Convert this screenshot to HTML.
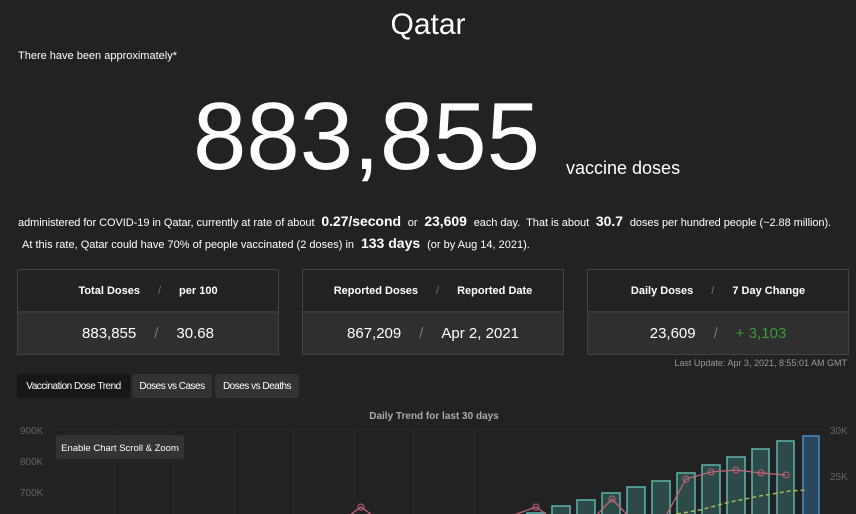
<!DOCTYPE html>
<html><head><style>
body{margin:0;width:856px;height:514px;overflow:hidden;background:#222;color:#fff;font-family:"Liberation Sans",sans-serif;position:relative}
.a{position:absolute;white-space:nowrap}
.box{position:absolute;top:269px;width:260px;height:84px;border:1px solid #444;background:#222}
.box .h{height:41px;border-bottom:2px solid #3a3a3a;display:flex;justify-content:center;align-items:center;font-size:11px;font-weight:bold;gap:18px}
.box .v{height:41px;background:#2f2f2f;display:flex;justify-content:center;align-items:center;font-size:15px;gap:18px}
.s{color:#777;font-weight:normal}
.tab{position:absolute;top:374px;height:24px;background:#333;border-radius:3px;font-size:10px;display:flex;align-items:center;justify-content:center;letter-spacing:-0.5px}
</style></head><body>
<div class="a" style="left:0;width:856px;text-align:center;top:8px;font-size:30px">Qatar</div>
<div class="a" style="left:18px;top:50px;font-size:11px">There have been approximately*</div>
<div class="a" style="left:193px;top:82px;font-size:96px;font-weight:300">883,855</div>
<div class="a" style="left:566px;top:158px;font-size:18px">vaccine doses</div>
<div class="a" style="left:18px;top:213px;font-size:11px;letter-spacing:-0.05px">administered for COVID-19 in Qatar, currently at rate of about <b style="font-size:14px">&nbsp;0.27/second&nbsp;</b> or <b style="font-size:14px">&nbsp;23,609&nbsp;</b> each day. &nbsp;That is about <b style="font-size:14px">&nbsp;30.7&nbsp;</b> doses per hundred people (~2.88 million).</div>
<div class="a" style="left:22px;top:235px;font-size:11px">At this rate, Qatar could have 70% of people vaccinated (2 doses) in <b style="font-size:14px">&nbsp;133 days&nbsp;</b> (or by Aug 14, 2021).</div>
<div class="box" style="left:17px"><div class="h"><span>Total Doses</span><span class="s">/</span><span>per 100</span></div><div class="v"><span>883,855</span><span class="s">/</span><span>30.68</span></div></div>
<div class="box" style="left:302px"><div class="h"><span>Reported Doses</span><span class="s">/</span><span>Reported Date</span></div><div class="v"><span>867,209</span><span class="s">/</span><span>Apr 2, 2021</span></div></div>
<div class="box" style="left:587px"><div class="h"><span>Daily Doses</span><span class="s">/</span><span>7 Day Change</span></div><div class="v"><span>23,609</span><span class="s">/</span><span style="color:#3c9a3c">+ 3,103</span></div></div>
<div class="a" style="right:9px;top:358px;font-size:9px;color:#999">Last Update: Apr 3, 2021, 8:55:01 AM GMT</div>
<div class="tab" style="left:17px;width:113px;background:#171717">Vaccination Dose Trend</div>
<div class="tab" style="left:132px;width:80px">Doses vs Cases</div>
<div class="tab" style="left:215px;width:84px">Doses vs Deaths</div>
<svg class="a" style="left:0;top:400px" width="856" height="114">
<text x="434" y="19" fill="#aaa" font-size="10" text-anchor="middle" font-weight="bold" font-family="Liberation Sans">Daily Trend for last 30 days</text>
<g fill="#666" font-size="10" font-family="Liberation Sans"><text x="20" y="34">900K</text><text x="20" y="65">800K</text><text x="20" y="96">700K</text><text x="830" y="34">30K</text><text x="830" y="80">25K</text></g>
<g stroke="#2a2a2a"><line x1="50" y1="30" x2="824" y2="30"/></g>
<g stroke="#2b2b2b"><line x1="114" y1="30" x2="114" y2="114"/><line x1="174" y1="30" x2="174" y2="114"/><line x1="234" y1="30" x2="234" y2="114"/><line x1="294" y1="30" x2="294" y2="114"/><line x1="354" y1="30" x2="354" y2="114"/><line x1="414" y1="30" x2="414" y2="114"/><line x1="474" y1="30" x2="474" y2="114"/></g>
<rect x="56" y="35" width="128" height="24" rx="3" fill="#333"/>
<text x="120" y="51" fill="#fff" font-size="9.5" text-anchor="middle" font-family="Liberation Sans">Enable Chart Scroll &amp; Zoom</text>
<g fill="#2e4a48" stroke="#5fb5ad" stroke-width="1.5">
<rect x="527" y="113" width="18" height="10"/><rect x="552" y="106" width="18" height="20"/><rect x="577" y="100" width="18" height="20"/><rect x="602" y="93" width="18" height="30"/><rect x="627" y="87" width="18" height="30"/><rect x="652" y="81" width="18" height="40"/><rect x="677" y="73" width="18" height="50"/><rect x="702" y="65" width="18" height="50"/><rect x="727" y="57" width="18" height="60"/><rect x="752" y="49" width="17" height="70"/><rect x="777" y="41" width="17" height="80"/></g>
<rect x="803" y="36" width="16" height="90" fill="#2a4660" stroke="#4a8cc0" stroke-width="1.5"/>
<polyline points="677,114 700,110 730,102 760,96 790,91 807,90" fill="none" stroke="#a6b85a" stroke-width="1.5" stroke-dasharray="4,3"/>
<polyline points="336,125 361,107 386,125 511,116 536,107 561,125 587,125 612,99 637,125 661,125 686,79 711,72 736,70 761,73 786,75" fill="none" stroke="#c0647a" stroke-width="1.3"/>
<g fill="none" stroke="#c0647a"><circle cx="361" cy="107" r="3"/><circle cx="536" cy="107" r="3"/><circle cx="612" cy="99" r="3"/><circle cx="686" cy="79" r="3"/><circle cx="711" cy="72" r="3"/><circle cx="736" cy="70" r="3"/><circle cx="761" cy="73" r="3"/><circle cx="786" cy="75" r="3"/></g>
</svg>
</body></html>
